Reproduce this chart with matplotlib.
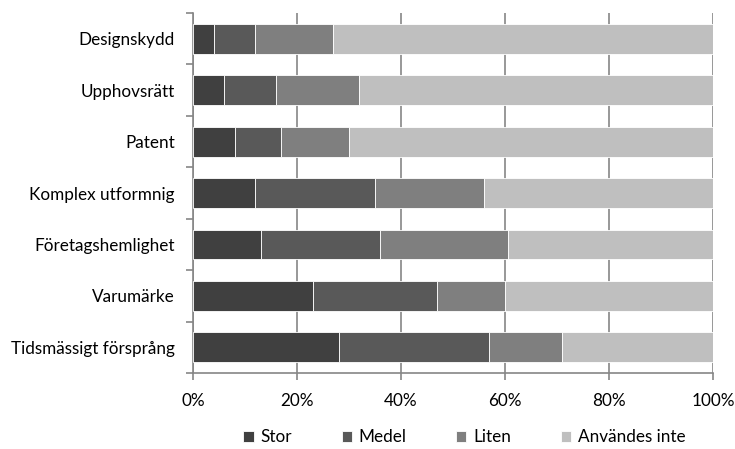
import numpy as np
import matplotlib.pyplot as plt

plt.rcParams['font.family'] = ['Lato', 'DejaVu Sans']

categories = ['Designskydd', 'Upphovsrätt', 'Patent', 'Komplex utformnig',
              'Företagshemlighet', 'Varumärke', 'Tidsmässigt försprång']
stor = [4, 6, 8, 12, 13, 23, 28]
medel = [8, 10, 9, 23, 23, 24, 29]
liten = [15, 16, 13, 21, 24.5, 13, 14]
anvandes_inte = [73, 68, 70, 44, 39.5, 40, 29]

series = [stor, medel, liten, anvandes_inte]
labels = ['Stor', 'Medel', 'Liten', 'Användes inte']
colors = ['#404040', '#595959', '#7f7f7f', '#bfbfbf']

fig = plt.figure(figsize=(7.35, 4.49), dpi=100)
ax = fig.add_axes([0.2626, 0.169, 0.7074, 0.802])

y = np.arange(len(categories))[::-1]
left = np.zeros(len(categories))
for vals, lab, col in zip(series, labels, colors):
    vals = np.array(vals, dtype=float)
    ax.barh(y, vals, left=left, height=0.58, color=col, label=lab,
            edgecolor='white', linewidth=0.6, zorder=3)
    left += vals

fs = 12.3
ax.set_xlim(0, 100)
ax.set_ylim(-0.5, len(categories) - 0.5)
ax.set_xticks(np.arange(0, 101, 20))
ax.set_xticklabels(['%d%%' % v for v in range(0, 101, 20)], fontsize=fs)
ax.set_yticks(y)
ax.set_yticklabels(categories, fontsize=fs)
ax.tick_params(axis='y', length=0, pad=13)
ax.set_yticks(np.arange(-0.5, len(categories), 1), minor=True)
ax.tick_params(axis='y', which='minor', length=5, color='#868686', width=1.2)
ax.tick_params(axis='x', length=5, color='#868686', width=1.2, pad=9)
ax.grid(axis='x', color='#868686', linewidth=1.2, zorder=0)
for s in ['top', 'right']:
    ax.spines[s].set_visible(False)
for s in ['left', 'bottom']:
    ax.spines[s].set_color('#868686')
    ax.spines[s].set_linewidth(1.2)

ax.legend(loc='center', bbox_to_anchor=(0.522, -0.178), ncol=4, frameon=False,
          fontsize=fs, handlelength=0.6, handleheight=0.6, columnspacing=2.9,
          handletextpad=0.4)

fig.savefig('out.png', dpi=100)
